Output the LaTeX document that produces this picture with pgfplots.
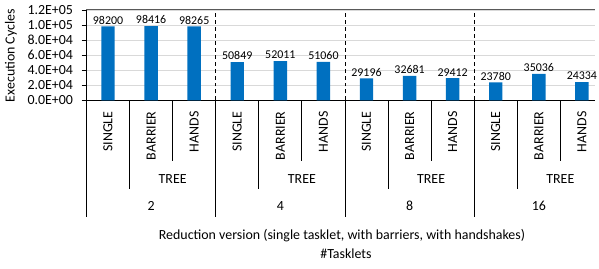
\documentclass[border=0pt]{standalone}
\usepackage{pgfplots}
\pgfplotsset{compat=1.18}
\usepackage{pgfplotstable}
\usepackage{fontspec}
\setmainfont{Carlito}
\definecolor{barblue}{HTML}{0070C0}
\definecolor{gridgray}{HTML}{D9D9D9}
\definecolor{topgray}{HTML}{595959}

\pgfplotstableread{
x y lbl
0.5 98200 98200
1.5 98416 98416
2.5 98265 98265
3.5 50849 50849
4.5 52011 52011
5.5 51060 51060
6.5 29196 29196
7.5 32681 32681
8.5 29412 29412
9.5 23780 23780
10.5 35036 35036
11.5 24334 24334
}\data

\begin{document}
\begin{tikzpicture}
\path (0pt,0pt) rectangle (599pt,-270pt);
\begin{axis}[
  at={(87pt,-101pt)}, anchor=south west,
  scale only axis, width=512pt, height=91pt,
  xmin=0, xmax=11.8154, ymin=0, ymax=120000,
  clip=false,
  axis lines*=left,
  axis line style={black, line width=0.8pt},
  xtick=\empty,
  ytick={0,20000,40000,60000,80000,100000,120000},
  yticklabels={0.0E+00,2.0E+04,4.0E+04,6.0E+04,8.0E+04,1.0E+05,1.2E+05},
  yticklabel style={font=\fontsize{14}{14}\selectfont, xshift=-5pt},
  tick align=outside, major tick length=5pt,
  ytick style={black, line width=0.8pt},
  ymajorgrids, grid style={gridgray, line width=0.8pt},
  scaled y ticks=false,
  ybar, bar width=13.5pt,
  nodes near coords,
  point meta=explicit symbolic,
  nodes near coords style={font=\fontsize{12}{12}\selectfont, text=black, inner sep=2pt},
]
\addplot[fill=barblue, draw=none] table[x=x, y=y, meta=lbl] {\data};
\draw[topgray, line width=1.1pt] (axis cs:0,120000) -- (axis cs:11.8154,120000);
\pgfplotsinvokeforeach{3,6,9}{
  \draw[black, line width=0.8pt, dash pattern=on 4pt off 3pt] (axis cs:#1,0) -- (axis cs:#1,120000);
}
\pgfplotsinvokeforeach{0,3,6,9}{
  \draw[black, line width=0.8pt] (axis cs:#1,0) -- ([yshift=-117pt]axis cs:#1,0);
}
\pgfplotsinvokeforeach{1,4,7,10}{
  \draw[black, line width=0.8pt] (axis cs:#1,0) -- ([yshift=-89pt]axis cs:#1,0);
}
\pgfplotsinvokeforeach{2,5,8,11}{
  \draw[black, line width=0.8pt] (axis cs:#1,0) -- ([yshift=-61pt]axis cs:#1,0);
}
\pgfplotsinvokeforeach{0.5,3.5,6.5,9.5}{
  \node[rotate=90, anchor=east, inner sep=0pt, font=\fontsize{14}{14}\selectfont] at ([yshift=-11pt]axis cs:#1,0) {SINGLE};
}
\pgfplotsinvokeforeach{1.5,4.5,7.5,10.5}{
  \node[rotate=90, anchor=east, inner sep=0pt, font=\fontsize{14}{14}\selectfont] at ([yshift=-11pt]axis cs:#1,0) {BARRIER};
}
\pgfplotsinvokeforeach{2.5,5.5,8.5,11.5}{
  \node[rotate=90, anchor=east, inner sep=0pt, font=\fontsize{14}{14}\selectfont] at ([yshift=-11pt]axis cs:#1,0) {HANDS};
}
\pgfplotsinvokeforeach{2,5,8,11}{
  \node[font=\fontsize{14}{14}\selectfont] at ([yshift=-79pt]axis cs:#1,0) {TREE};
}
\node[font=\fontsize{14}{14}\selectfont] at ([yshift=-106pt]axis cs:1.5,0) {2};
\node[font=\fontsize{14}{14}\selectfont] at ([yshift=-106pt]axis cs:4.5,0) {4};
\node[font=\fontsize{14}{14}\selectfont] at ([yshift=-106pt]axis cs:7.5,0) {8};
\node[font=\fontsize{14}{14}\selectfont] at ([yshift=-106pt]axis cs:10.5,0) {16};
\end{axis}
\node[rotate=90, font=\fontsize{14}{14}\selectfont] at (11pt,-56pt) {Execution Cycles};
\node[font=\fontsize{14}{14}\selectfont] at (344pt,-237pt) {Reduction version (single tasklet, with barriers, with handshakes)};
\node[font=\fontsize{14}{14}\selectfont] at (348pt,-255pt) {\#Tasklets};
\end{tikzpicture}
\end{document}
